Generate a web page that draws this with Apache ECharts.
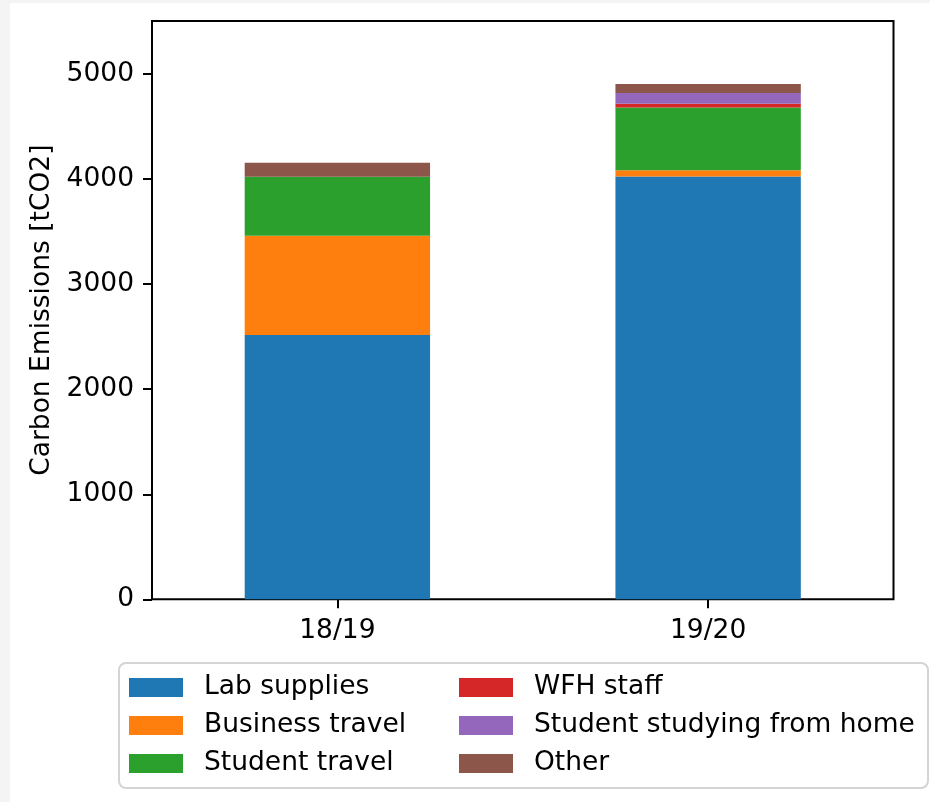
<!DOCTYPE html>
<html>
<head>
<meta charset="utf-8">
<script src="https://cdn.jsdelivr.net/npm/echarts@6/dist/echarts.min.js"></script>
<style>
html,body{margin:0;padding:0;background:#f4f4f4;width:930px;height:802px;overflow:hidden;}
#c{position:absolute;left:10px;top:3px;width:920px;height:799px;background:#ffffff;}
</style>
</head>
<body>
<div id="c"></div>
<script>
const categories = ['18/19', '19/20'];
const seriesNames = ['Lab supplies', 'Business travel', 'Student travel', 'WFH staff', 'Student studying from home', 'Other'];
const labSupplies = [2517, 4025];
const businessTravel = [943, 60];
const studentTravel = [562, 597];
const wfhStaff = [0, 36];
const studentHome = [0, 102];
const other = [133, 86];
const yTicks = [0, 1000, 2000, 3000, 4000, 5000];
const yMax = 5505;

const values = [labSupplies, businessTravel, studentTravel, wfhStaff, studentHome, other];
const colors = ['#1f77b4', '#ff7f0e', '#2ca02c', '#d62728', '#9467bd', '#8c564b'];
const FONT = 'DejaVu Sans';
const FS = 26.5;

const chart = echarts.init(document.getElementById('c'), null, {renderer: 'canvas'});

const series = seriesNames.map((n, i) => ({
  name: n,
  type: 'bar',
  stack: 'total',
  barWidth: '50%',
  data: values[i],
  itemStyle: {color: colors[i]},
  emphasis: {disabled: true}
}));

const legendCommon = {
  type: 'plain',
  orient: 'vertical',
  itemWidth: 54,
  itemHeight: 19,
  itemGap: 11,
  icon: 'rect',
  selectedMode: false,
  padding: 0,
  textStyle: {fontFamily: FONT, fontSize: FS, color: '#000', padding: [0, 0, 0, 16]}
};

chart.setOption({
  animation: false,
  textStyle: {fontFamily: FONT},
  grid: {left: 142, top: 18, width: 741.5, height: 578.3, show: true, borderColor: '#000', borderWidth: 2, backgroundColor: 'transparent'},
  xAxis: {
    type: 'category',
    data: categories,
    axisLine: {show: false},
    axisTick: {show: true, alignWithLabel: true, length: 9, lineStyle: {color: '#000', width: 2}},
    axisLabel: {color: '#000', fontFamily: FONT, fontSize: FS, margin: 18}
  },
  yAxis: {
    type: 'value',
    min: 0,
    max: yMax,
    interval: 1000,
    name: 'Carbon Emissions [tCO2]',
    nameLocation: 'middle',
    nameGap: 95,
    nameTextStyle: {color: '#000', fontFamily: FONT, fontSize: FS},
    axisLine: {show: false},
    splitLine: {show: false},
    axisTick: {show: true, length: 9, lineStyle: {color: '#000', width: 2}, customValues: yTicks},
    axisLabel: {color: '#000', fontFamily: FONT, fontSize: FS, margin: 18, customValues: yTicks, formatter: v => String(v)}
  },
  legend: [
    Object.assign({}, legendCommon, {left: 119, top: 671, data: seriesNames.slice(0, 3)}),
    Object.assign({}, legendCommon, {left: 449, top: 671, data: seriesNames.slice(3, 6)})
  ],
  graphic: [{
    type: 'rect',
    z: -1,
    silent: true,
    shape: {x: 109, y: 660, width: 809, height: 125, r: 7},
    style: {fill: 'rgba(255,255,255,0.8)', stroke: '#d4d4d4', lineWidth: 2}
  }],
  series: series
});
</script>
</body>
</html>
